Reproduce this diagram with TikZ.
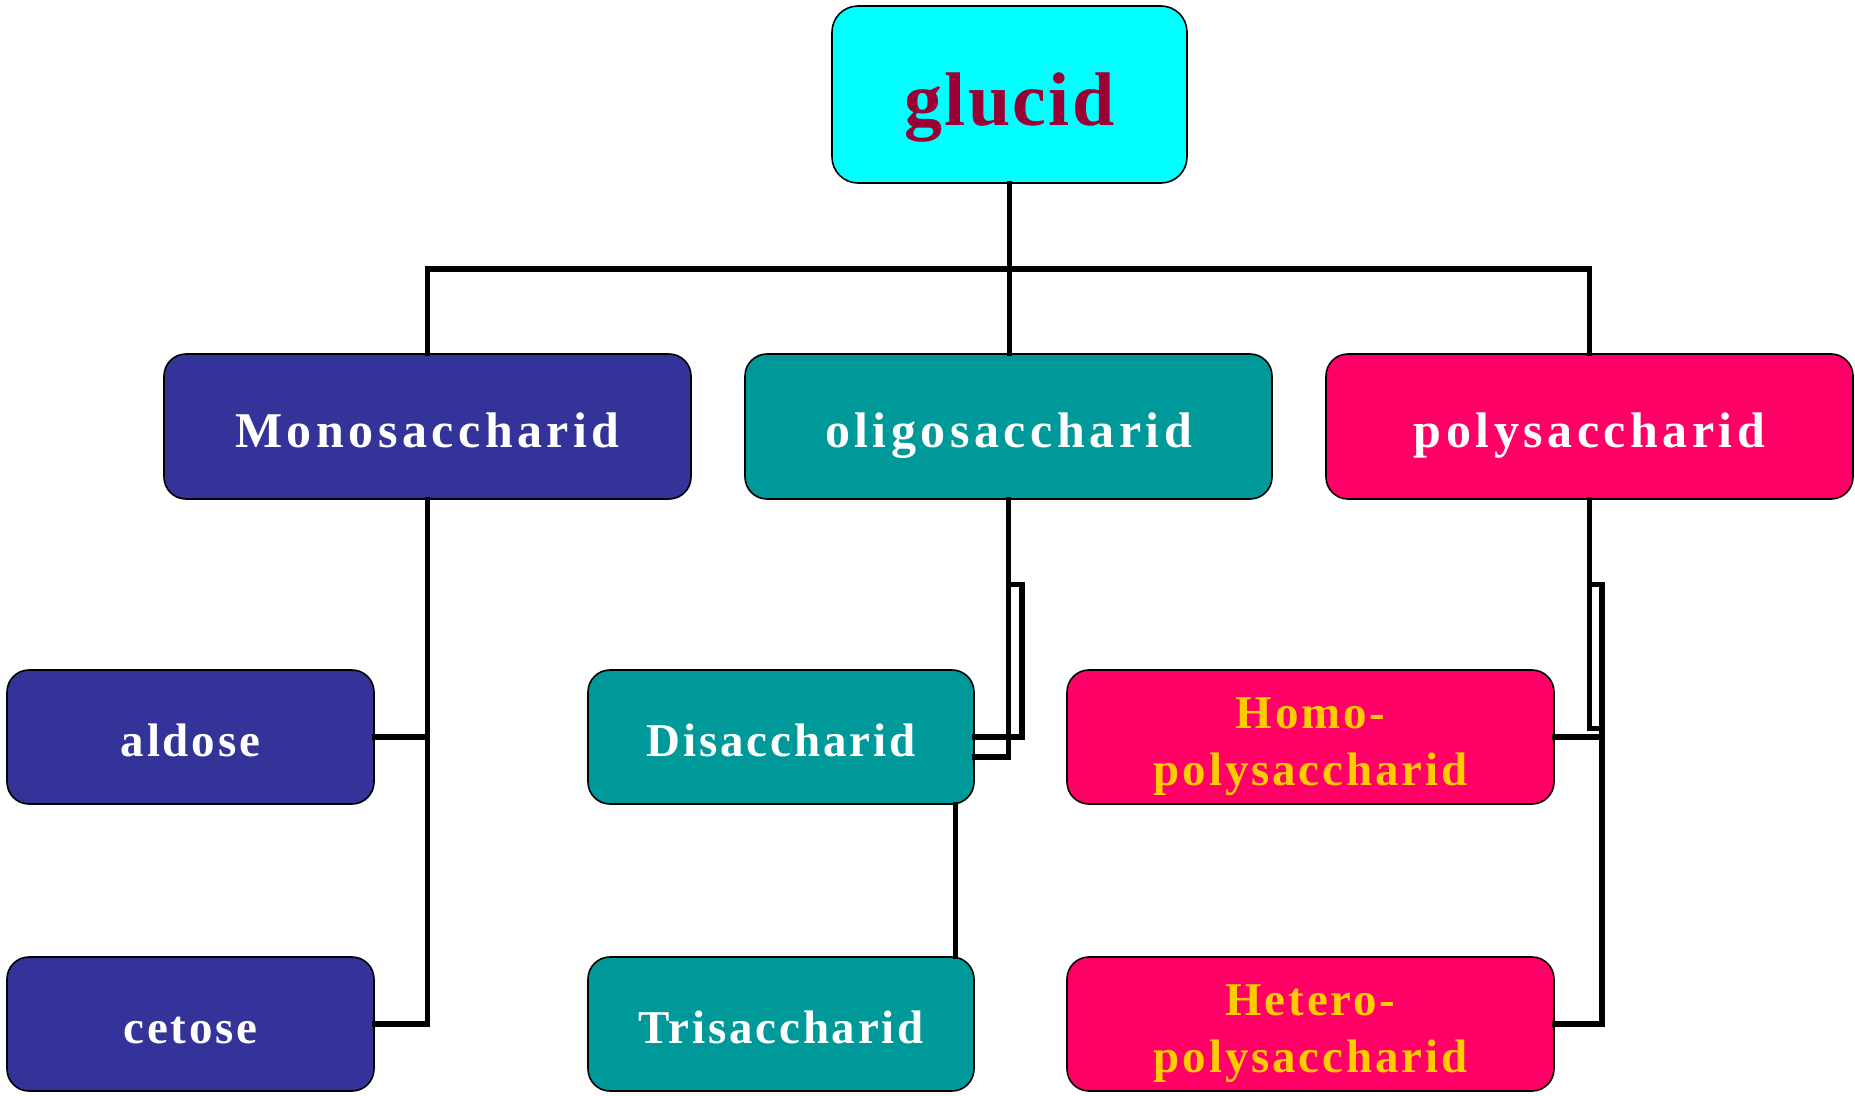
\documentclass[tikz,border=0pt]{standalone}
\usepackage{fontspec}
\setmainfont{Liberation Serif}[LetterSpace=9]
\newfontfamily\gfont{Liberation Serif}[LetterSpace=3]
\newfontfamily\tfont{Liberation Serif}[LetterSpace=6]
\definecolor{cyanbox}{RGB}{0,255,255}
\definecolor{wine}{RGB}{153,0,51}
\definecolor{monoblue}{RGB}{51,51,153}
\definecolor{teal2}{RGB}{0,153,153}
\definecolor{pink2}{RGB}{255,0,102}
\definecolor{gold2}{RGB}{255,204,0}
\begin{document}
\begin{tikzpicture}[x=1pt,y=-1pt,
  box/.style={draw=black,line width=1.6pt,rounded corners=22pt,inner sep=0pt,text depth=0pt},
  top/.style={box,rounded corners=26pt,fill=cyanbox,text=wine,text height=61pt,
    font=\gfont\bfseries\fontsize{76}{80}\selectfont,minimum width=355pt,minimum height=177pt},
  lvltwo/.style={box,font=\bfseries\fontsize{50}{57}\selectfont,text=white,text height=41pt,
    minimum width=527pt,minimum height=145pt},
  lvlthree/.style={box,font=\tfont\bfseries\fontsize{47}{57}\selectfont,text=white,text height=38pt,
    minimum height=134pt},
  twoline/.style={text height=96pt,text depth=0pt},
  conn/.style={line width=5.2pt,line cap=rect}
  ]
\useasboundingbox (0,0) rectangle (1855,1095);
\node[top] (glucid) at (1009.5,94.5) {glucid};
\node[lvltwo,fill=monoblue] (mono) at (427.5,426.5) {Monosaccharid};
\node[lvltwo,fill=teal2] (oligo) at (1008.5,426.5) {oligosaccharid};
\node[lvltwo,fill=pink2] (poly) at (1589.5,426.5) {polysaccharid};
\node[lvlthree,fill=monoblue,minimum width=367pt] (aldose) at (190.5,737) {aldose};
\node[lvlthree,fill=monoblue,minimum width=367pt] (cetose) at (190.5,1024) {cetose};
\node[lvlthree,fill=teal2,minimum width=386pt] (di) at (781,737) {Disaccharid};
\node[lvlthree,fill=teal2,minimum width=386pt] (tri) at (781,1024) {Trisaccharid};
\node[lvlthree,twoline,fill=pink2,text=gold2,minimum width=487pt] (homo) at (1310.5,737)
  {\begin{tabular}[b]{@{}c@{}}Homo-\\polysaccharid\end{tabular}};
\node[lvlthree,twoline,fill=pink2,text=gold2,minimum width=487pt] (hetero) at (1310.5,1024)
  {\begin{tabular}[b]{@{}c@{}}Hetero-\\polysaccharid\end{tabular}};
\coordinate (bar) at (0,269);
% top level
\draw[conn] (glucid.south) -- (glucid.south |- oligo.north);
\draw[conn] (mono.north) -- (mono.north |- bar) -- (poly.north |- bar) -- (poly.north);
% mono branch
\draw[conn] (mono.south) |- (cetose.east);
\draw[conn] (aldose.east) -- (aldose.east -| mono.south);
% oligo branch
\draw[conn] (oligo.south) |- ([yshift=-20pt]di.east);
\draw[conn] ([yshift=-85pt]oligo.south) -- ++(13.5,0) |- (di.east);
\draw[conn] ([xshift=-19pt]di.south east) -- ([xshift=-19pt]tri.north east);
% poly branch
\coordinate (pr) at ([xshift=12.5pt,yshift=-85pt]poly.south);
\draw[conn] (poly.south) -- ++(0,229) -| (pr);
\draw[conn] ([yshift=-85pt]poly.south) -- (pr) |- (hetero.east);
\draw[conn] (homo.east) -- (homo.east -| pr);
\end{tikzpicture}
\end{document}
